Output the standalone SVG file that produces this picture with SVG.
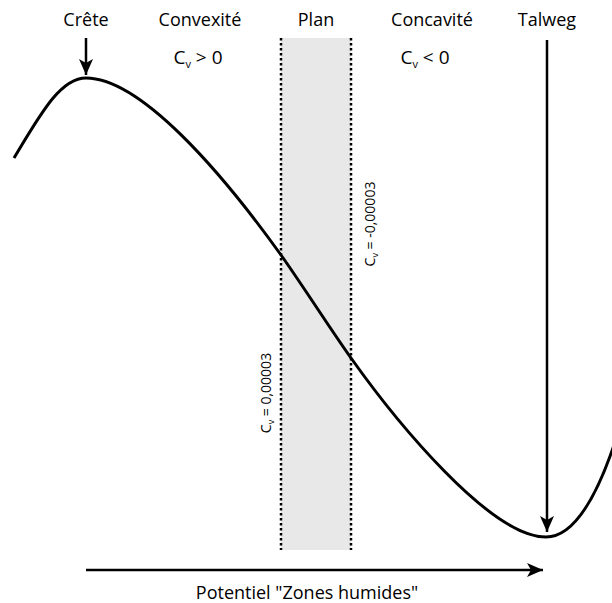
<svg xmlns="http://www.w3.org/2000/svg" width="612" height="603" viewBox="0 0 612 603">
<defs>
<style>
text{font-family:"Open Sans","Liberation Sans",sans-serif;fill:#000}
.lbl{font-size:18px;text-anchor:middle}
.cv{font-size:19px;text-anchor:middle}
.sm{font-size:14px;text-anchor:middle}
.dot{stroke:#000;stroke-width:2.5;stroke-dasharray:2.5 2.5;fill:none}
.arr{stroke:#000;stroke-width:2.5;fill:none}
</style>
<marker id="ah" viewBox="0 0 16 14" refX="16" refY="7" markerWidth="16" markerHeight="14" markerUnits="userSpaceOnUse" orient="auto">
<path d="M0,0 L16,7 L0,14 L4,7 Z" fill="#000"/>
</marker>
</defs>
<rect width="612" height="603" fill="#fff"/>
<g id="plan-band">
<rect x="281" y="38" width="70" height="512" fill="#e8e8e8"/>
<line class="dot" x1="281" y1="38" x2="281" y2="550"/>
<line class="dot" x1="351" y1="38" x2="351" y2="550"/>
</g>
<g id="profile">
<path d="M14,158 C40,115 60,78 86,78 C140,78 220,170 281,255 C301,283 331,330 351,358 C395,420 490,537 546,537 C575,537 597,495 614,445" fill="none" stroke="#000" stroke-width="3"/>
</g>
<g id="connectors">
<line class="arr" x1="86" y1="38" x2="86" y2="75" marker-end="url(#ah)"/>
<line class="arr" x1="547" y1="40" x2="547" y2="532" marker-end="url(#ah)"/>
<line class="arr" x1="86" y1="570" x2="543" y2="570" marker-end="url(#ah)"/>
</g>
<g id="labels">
<text class="lbl" x="86" y="26">Crête</text>
<text class="lbl" x="200" y="26">Convexité</text>
<text class="lbl" x="316" y="26">Plan</text>
<text class="lbl" x="432" y="26">Concavité</text>
<text class="lbl" x="547" y="26">Talweg</text>
<text class="cv" x="198" y="64">C<tspan font-size="11" dy="4">v</tspan><tspan dy="-4"> &gt; 0</tspan></text>
<text class="cv" x="425" y="64">C<tspan font-size="11" dy="4">v</tspan><tspan dy="-4"> &lt; 0</tspan></text>
<text class="sm" transform="translate(271,393) rotate(-90)">C<tspan font-size="9" dy="3">v</tspan><tspan dy="-3"> = 0,00003</tspan></text>
<text class="sm" transform="translate(375,224) rotate(-90)">C<tspan font-size="9" dy="3">v</tspan><tspan dy="-3"> = -0,00003</tspan></text>
<text class="lbl" x="307" y="599">Potentiel "Zones humides"</text>
</g>
</svg>
